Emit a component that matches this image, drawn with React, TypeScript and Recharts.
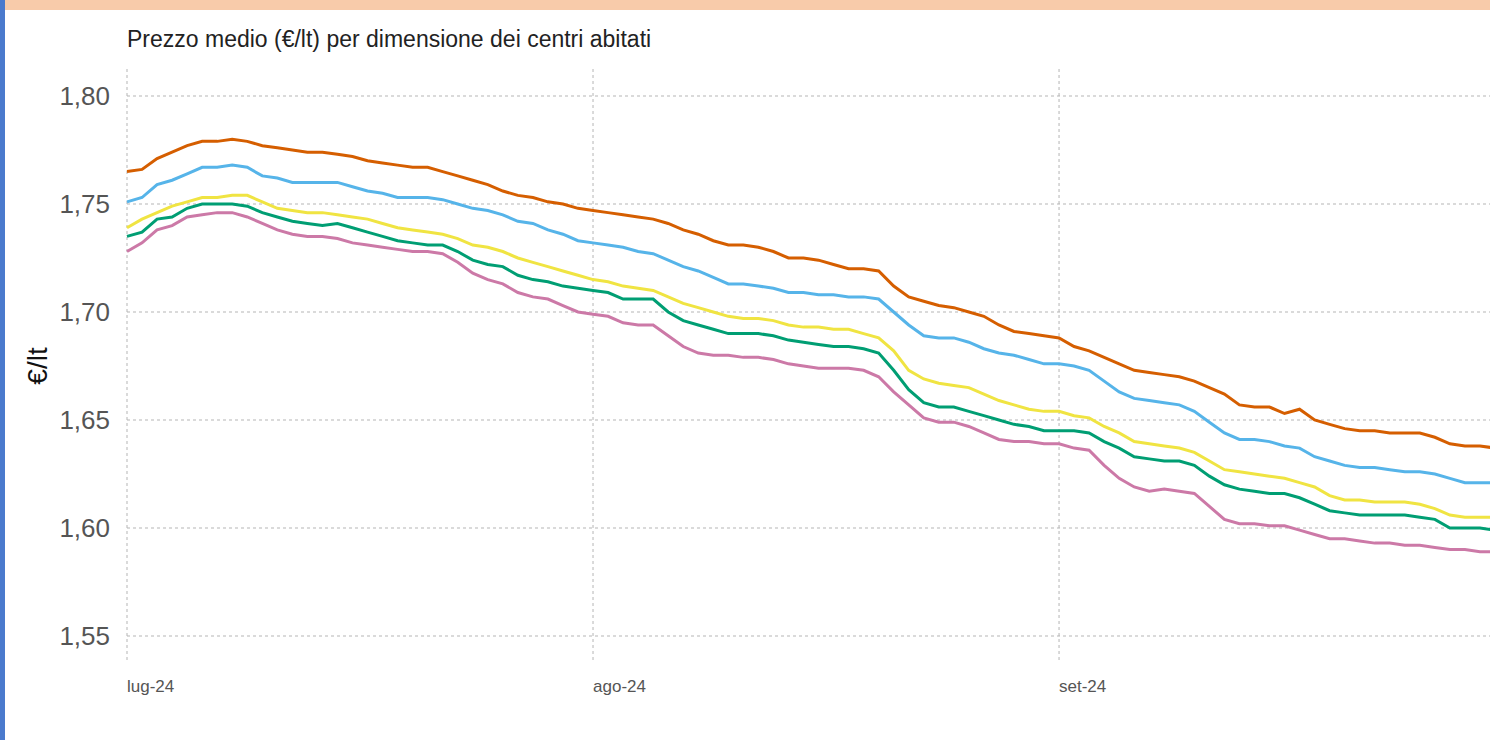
import { CartesianGrid, Line, LineChart, XAxis, YAxis } from "recharts";

// giorni dal 1 luglio 2024 (0) al 30 settembre 2024 (91)
const monthTicks = [0, 31, 62];
const monthLabels = ["lug-24", "ago-24", "set-24"];
const priceTicks = [1.55, 1.6, 1.65, 1.7, 1.75, 1.8];

const grandi = [
  1.765, 1.766, 1.771, 1.774, 1.777, 1.779, 1.779, 1.78, 1.779, 1.777, 1.776, 1.775, 1.774, 1.774, 1.773, 1.772,
  1.77, 1.769, 1.768, 1.767, 1.767, 1.765, 1.763, 1.761, 1.759, 1.756, 1.754, 1.753, 1.751, 1.75, 1.748, 1.747,
  1.746, 1.745, 1.744, 1.743, 1.741, 1.738, 1.736, 1.733, 1.731, 1.731, 1.73, 1.728, 1.725, 1.725, 1.724, 1.722,
  1.72, 1.72, 1.719, 1.712, 1.707, 1.705, 1.703, 1.702, 1.7, 1.698, 1.694, 1.691, 1.69, 1.689, 1.688, 1.684,
  1.682, 1.679, 1.676, 1.673, 1.672, 1.671, 1.67, 1.668, 1.665, 1.662, 1.657, 1.656, 1.656, 1.653, 1.655, 1.65,
  1.648, 1.646, 1.645, 1.645, 1.644, 1.644, 1.644, 1.642, 1.639, 1.638, 1.638, 1.637,
];

const medioGrandi = [
  1.751, 1.753, 1.759, 1.761, 1.764, 1.767, 1.767, 1.768, 1.767, 1.763, 1.762, 1.76, 1.76, 1.76, 1.76, 1.758,
  1.756, 1.755, 1.753, 1.753, 1.753, 1.752, 1.75, 1.748, 1.747, 1.745, 1.742, 1.741, 1.738, 1.736, 1.733, 1.732,
  1.731, 1.73, 1.728, 1.727, 1.724, 1.721, 1.719, 1.716, 1.713, 1.713, 1.712, 1.711, 1.709, 1.709, 1.708, 1.708,
  1.707, 1.707, 1.706, 1.7, 1.694, 1.689, 1.688, 1.688, 1.686, 1.683, 1.681, 1.68, 1.678, 1.676, 1.676, 1.675,
  1.673, 1.668, 1.663, 1.66, 1.659, 1.658, 1.657, 1.654, 1.649, 1.644, 1.641, 1.641, 1.64, 1.638, 1.637, 1.633,
  1.631, 1.629, 1.628, 1.628, 1.627, 1.626, 1.626, 1.625, 1.623, 1.621, 1.621, 1.621,
];

const medi = [
  1.739, 1.743, 1.746, 1.749, 1.751, 1.753, 1.753, 1.754, 1.754, 1.751, 1.748, 1.747, 1.746, 1.746, 1.745, 1.744,
  1.743, 1.741, 1.739, 1.738, 1.737, 1.736, 1.734, 1.731, 1.73, 1.728, 1.725, 1.723, 1.721, 1.719, 1.717, 1.715,
  1.714, 1.712, 1.711, 1.71, 1.707, 1.704, 1.702, 1.7, 1.698, 1.697, 1.697, 1.696, 1.694, 1.693, 1.693, 1.692,
  1.692, 1.69, 1.688, 1.682, 1.673, 1.669, 1.667, 1.666, 1.665, 1.662, 1.659, 1.657, 1.655, 1.654, 1.654, 1.652,
  1.651, 1.647, 1.644, 1.64, 1.639, 1.638, 1.637, 1.635, 1.631, 1.627, 1.626, 1.625, 1.624, 1.623, 1.621, 1.619,
  1.615, 1.613, 1.613, 1.612, 1.612, 1.612, 1.611, 1.609, 1.606, 1.605, 1.605, 1.605,
];

const medioPiccoli = [
  1.735, 1.737, 1.743, 1.744, 1.748, 1.75, 1.75, 1.75, 1.749, 1.746, 1.744, 1.742, 1.741, 1.74, 1.741, 1.739,
  1.737, 1.735, 1.733, 1.732, 1.731, 1.731, 1.728, 1.724, 1.722, 1.721, 1.717, 1.715, 1.714, 1.712, 1.711, 1.71,
  1.709, 1.706, 1.706, 1.706, 1.7, 1.696, 1.694, 1.692, 1.69, 1.69, 1.69, 1.689, 1.687, 1.686, 1.685, 1.684,
  1.684, 1.683, 1.681, 1.673, 1.664, 1.658, 1.656, 1.656, 1.654, 1.652, 1.65, 1.648, 1.647, 1.645, 1.645, 1.645,
  1.644, 1.64, 1.637, 1.633, 1.632, 1.631, 1.631, 1.629, 1.624, 1.62, 1.618, 1.617, 1.616, 1.616, 1.614, 1.611,
  1.608, 1.607, 1.606, 1.606, 1.606, 1.606, 1.605, 1.604, 1.6, 1.6, 1.6, 1.599,
];

const piccoli = [
  1.728, 1.732, 1.738, 1.74, 1.744, 1.745, 1.746, 1.746, 1.744, 1.741, 1.738, 1.736, 1.735, 1.735, 1.734, 1.732,
  1.731, 1.73, 1.729, 1.728, 1.728, 1.727, 1.723, 1.718, 1.715, 1.713, 1.709, 1.707, 1.706, 1.703, 1.7, 1.699,
  1.698, 1.695, 1.694, 1.694, 1.689, 1.684, 1.681, 1.68, 1.68, 1.679, 1.679, 1.678, 1.676, 1.675, 1.674, 1.674,
  1.674, 1.673, 1.67, 1.663, 1.657, 1.651, 1.649, 1.649, 1.647, 1.644, 1.641, 1.64, 1.64, 1.639, 1.639, 1.637,
  1.636, 1.629, 1.623, 1.619, 1.617, 1.618, 1.617, 1.616, 1.61, 1.604, 1.602, 1.602, 1.601, 1.601, 1.599, 1.597,
  1.595, 1.595, 1.594, 1.593, 1.593, 1.592, 1.592, 1.591, 1.59, 1.59, 1.589, 1.589,
];

const series = [
  { key: "grandi", color: "#D55E00" },
  { key: "medioGrandi", color: "#56B4E9" },
  { key: "medi", color: "#F0E442" },
  { key: "medioPiccoli", color: "#009E73" },
  { key: "piccoli", color: "#CC79A7" },
];

const data = grandi.map((v, i) => ({
  day: i,
  grandi: v,
  medioGrandi: medioGrandi[i],
  medi: medi[i],
  medioPiccoli: medioPiccoli[i],
  piccoli: piccoli[i],
}));

const font = "'Liberation Sans', Arial, sans-serif";

function MonthTick({ x, y, payload }: any) {
  const idx = monthTicks.indexOf(payload.value);
  return (
    <text x={x} y={y} dy={21} textAnchor="start" fill="#555" fontSize={17} fontFamily={font}>
      {monthLabels[idx]}
    </text>
  );
}

export default function App() {
  return (
    <div
      style={{
        position: "absolute",
        left: 0,
        top: 0,
        width: 1490,
        height: 740,
        overflow: "hidden",
        background: "#fff",
        fontFamily: font,
      }}
    >
      <div style={{ position: "absolute", left: 0, top: 0, width: 5, height: 740, background: "#4a7acd" }} />
      <div style={{ position: "absolute", left: 5, top: 0, width: 1485, height: 10, background: "#f8cbaa" }} />

      <div
        style={{
          position: "absolute",
          left: 127,
          top: 28,
          fontSize: 23,
          lineHeight: 1,
          color: "#222",
          whiteSpace: "nowrap",
        }}
      >
        Prezzo medio (€/lt) per dimensione dei centri abitati
      </div>

      <div
        style={{
          position: "absolute",
          left: 38,
          top: 366,
          fontSize: 28,
          lineHeight: 1,
          color: "#111",
          transform: "translate(-50%, -50%) rotate(-90deg)",
          whiteSpace: "nowrap",
        }}
      >
        €/lt
      </div>

      <div style={{ position: "absolute", left: 0, top: 0 }}>
        <LineChart width={1500} height={740} data={data} margin={{ top: 69, right: 5, bottom: 47, left: 0 }}>
          <CartesianGrid stroke="#b5b5b5" strokeDasharray="3 3" syncWithTicks />
          <XAxis
            dataKey="day"
            type="number"
            domain={[0, 91]}
            ticks={monthTicks}
            axisLine={false}
            tickLine={false}
            height={30}
            tick={<MonthTick />}
          />
          <YAxis
            domain={[1.5375, 1.8125]}
            ticks={priceTicks}
            width={127}
            axisLine={false}
            tickLine={false}
            tickSize={6}
            tickMargin={11}
            tick={{ fill: "#555", fontSize: 26, fontFamily: font }}
            tickFormatter={(v: number) => v.toFixed(2).replace(".", ",")}
          />
          {series.map((s) => (
            <Line
              key={s.key}
              dataKey={s.key}
              type="linear"
              stroke={s.color}
              strokeWidth={3}
              dot={false}
              isAnimationActive={false}
            />
          ))}
        </LineChart>
      </div>
    </div>
  );
}
